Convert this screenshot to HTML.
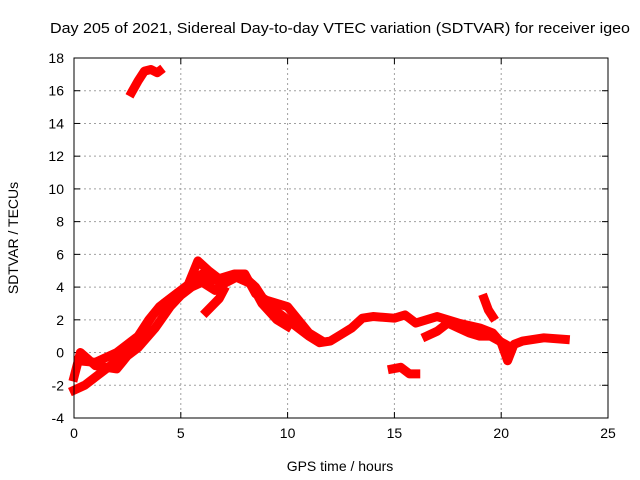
<!DOCTYPE html>
<html><head><meta charset="utf-8"><style>
body{margin:0;background:#fff;}
svg{display:block;font-family:"Liberation Sans",sans-serif;}
</style></head><body>
<svg id="chart" width="640" height="480">
<rect width="640" height="480" fill="#fff"/>
<text x="340" y="33" font-size="15" text-anchor="middle" textLength="580" lengthAdjust="spacingAndGlyphs">Day 205 of 2021, Sidereal Day-to-day VTEC variation (SDTVAR) for receiver igeo</text>
<text x="340" y="471" font-size="14" text-anchor="middle">GPS time / hours</text>
<text transform="translate(18,238) rotate(-90)" font-size="14" text-anchor="middle">SDTVAR / TECUs</text>
<g id="grid"></g><g id="ticks"></g><g id="series"></g>
<rect x="74" y="58" width="534" height="360" fill="none" stroke="#000"/>
</svg>
<script>
const xTicks=[0,5,10,15,20,25];
const yTicks=[-4,-2,0,2,4,6,8,10,12,14,16,18];
const trackMain=[[0,-2.3],[0.5,-2.0],[1,-1.5],[1.5,-1],[2,-0.5],[2.5,0.2],[3,0.5],[3.3,1.5],[3.7,2.3],[4.2,3.0],[4.8,3.6],[5.3,4.0],[5.8,5.6],[6.3,5.0],[7,4.3],[7.5,4.6],[8,4.6],[8.5,4],[9,3.0],[9.5,2.5],[10,2.0],[10.5,1.5],[11,1.0],[11.5,0.6],[12,0.7],[12.5,1.1],[13,1.5],[13.5,2.1],[14,2.2],[15,2.1],[15.5,2.3],[16,1.8],[16.5,2.0],[17,2.2],[18,1.8],[19,1.5],[19.6,1.2],[20,0.6],[20.3,-0.5],[20.6,0.5],[21,0.7],[22,0.9],[23,0.8]];
const trackB=[[0.2,-0.5],[1,-0.6],[2,0],[3,1.0],[3.5,2],[4,2.8],[5,3.8],[5.5,4.3],[6,4.8],[6.5,4.4],[7,4.6],[7.5,4.8],[8,4.8],[8.5,3.6],[9,3.2],[10,2.8],[10.5,2],[11,1.2],[11.5,0.8]];
const trackC=[[0,-1.5],[0.3,0],[1,-0.8],[2,-1],[2.5,-0.2],[3,0.3],[3.8,1.5],[4.5,2.8],[5,3.5],[5.5,4],[6,4.3],[6.6,3.8],[7,4.2],[7.6,4.6],[8.3,4.2],[8.8,3.0],[9.5,2.0],[10,1.6]];
const trackD=[[6.2,2.5],[6.8,3.3],[7,3.8]];
const trackE=[[16.5,1.0],[17,1.3],[17.5,1.8],[18,1.5],[18.5,1.2],[19,1.0],[19.5,1.0],[20.2,0.5]];
const trackUpper=[[2.7,15.9],[3,16.6],[3.3,17.2],[3.6,17.3],[3.9,17.1],[4,17.2]];
const trackLow=[[14.9,-1.0],[15.3,-0.9],[15.7,-1.3],[16,-1.3]];
const trackSpike=[[19.2,3.3],[19.4,2.6],[19.6,2.2]];
const tracks=[trackMain,trackB,trackC,trackD,trackE,trackUpper,trackLow,trackSpike];
const X0=74,X1=608,Y0=418,Y1=58;
const sx=v=>X0+(v-0)/(25-0)*(X1-X0);
const sy=v=>Y0-(v+4)/(22)*(Y0-Y1);
const NS="http://www.w3.org/2000/svg";
const grid=document.getElementById('grid'),ticks=document.getElementById('ticks'),ser=document.getElementById('series');
function mk(t,a,p){const e=document.createElementNS(NS,t);for(const k in a)e.setAttribute(k,a[k]);p.appendChild(e);return e;}
xTicks.forEach(v=>{const x=sx(v);
 if(v>0&&v<25){const g=mk('line',{x1:x,x2:x,y1:Y1,y2:Y0,stroke:'#a0a0a0','stroke-dasharray':'2,3'},grid);
 
 }
 mk('line',{x1:x,x2:x,y1:Y0,y2:Y0-6,stroke:'#000'},ticks);mk('line',{x1:x,x2:x,y1:Y1,y2:Y1+6,stroke:'#000'},ticks);
 const t=mk('text',{x:x,y:Y0+20,'font-size':14,'text-anchor':'middle'},ticks);t.textContent=v;
 
 });
yTicks.forEach(v=>{const y=sy(v);
 if(v>-4&&v<18){const g=mk('line',{x1:X0,x2:X1,y1:y,y2:y,stroke:'#a0a0a0','stroke-dasharray':'2,3'},grid);
 
 }
 mk('line',{x1:X0,x2:X0+6,y1:y,y2:y,stroke:'#000'},ticks);mk('line',{x1:X1,x2:X1-6,y1:y,y2:y,stroke:'#000'},ticks);
 const t=mk('text',{x:X0-10,y:y+5,'font-size':14,'text-anchor':'end'},ticks);t.textContent=v;
 
 });
tracks.forEach(tr=>{const p=mk('polyline',{points:tr.map(d=>sx(d[0])+','+sy(d[1])).join(' '),fill:'none',stroke:'#ff0000','stroke-width':9,'stroke-linejoin':'round','stroke-linecap':'square'},ser);
 
 });
</script>
</body></html>
